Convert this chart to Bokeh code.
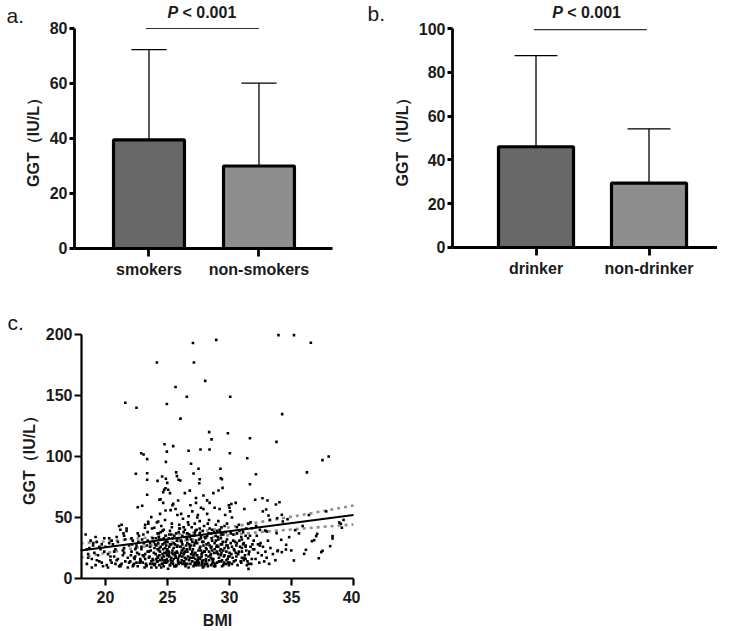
import numpy as np
from bokeh.plotting import figure
from bokeh.models import Range1d, FixedTicker, Label
from bokeh.layouts import column, row
from bokeh.embed import file_html
from bokeh.resources import INLINE

# ---------------- data ----------------
smoke_cats = ["smokers", "non-smokers"]
smoke_mean = [39.5, 30.0]
smoke_upper = [72.3, 60.1]

drink_cats = ["drinker", "non-drinker"]
drink_mean = [46.0, 29.4]
drink_upper = [87.6, 54.2]

p_text = "< 0.001"
bar_colors = ["#686868", "#8e8e8e"]

pts_18_22 = [(18.4,36),(18.5,12),(18.6,17),(18.7,25),(18.8,31),(18.9,16),(19.0,27),(19.1,21),(19.2,11),(19.3,30),
             (19.4,19),(19.5,14),(19.6,24),(19.7,28),(19.8,10),(19.9,33),(18.6,20),(19.0,29),(19.3,15),(19.7,13),
             (19.9,22),(18.9,9),(19.5,26),(18.5,24),(19.2,34),
             (20.0,26),(20.1,11),(20.2,9),(20.3,33),(20.4,18),(20.5,13),(20.6,28),(20.7,22),(20.8,12),(20.9,15),
             (21.0,30),(21.1,43),(21.2,10),(21.3,44),(21.4,19),(21.5,25),(21.6,14),(21.7,41),(21.8,17),(21.9,27),
             (20.2,20),(20.5,31),(20.8,24),(21.0,16),(21.3,12),(21.5,35),(21.8,9),(20.3,29),(20.7,18),(21.1,10),
             (21.4,23),(21.6,32),(21.9,13),(21.2,40),(21.45,37),(21.5,21),(21.7,39),(20.4,15),(20.9,34),(21.2,11),
             (21.6,144)]
pts_22_24 = [(22.0,14),(22.1,22),(22.2,31),(22.3,12),(22.4,18),(22.5,27),(22.6,10),(22.7,35),(22.8,16),(22.9,24),
             (23.0,13),(23.1,29),(23.2,20),(23.3,11),(23.4,38),(23.5,17),(23.6,26),(23.7,9),(23.8,33),(23.9,21),
             (22.05,19),(22.25,11),(22.45,25),(22.65,30),(22.85,14),(23.05,36),(23.25,12),(23.45,45),(23.65,23),(23.85,15),
             (22.15,28),(22.35,16),(22.55,21),(22.75,13),(22.95,32),(23.15,9),(23.35,27),(23.55,18),(23.75,41),(23.95,11),
             (22.1,33),(22.3,17),(22.5,13),(22.7,20),(22.9,26),(23.1,18),(23.3,10),(23.5,22),(23.7,14),(23.9,30),
             (22.2,10),(22.4,24),(22.6,37),(22.8,15),(23.0,19),(23.2,44),(23.4,31),(23.6,12),(23.8,16),(23.95,25),
             (22.6,58.4),(22.96,59.6),(23.44,46.5),(23.18,41.6),(23.69,50.3),(23.93,41.6),(22.45,85.8),(23.36,86.3),
             (23.36,80.9),(23.36,68.6),(22.88,102.7),(23.07,101.6),(23.36,97.8),(22.5,140)]
pts_24_26 = [(24.0,12),(24.1,27),(24.2,18),(24.3,34),(24.4,22),(24.5,9),(24.6,15),(24.7,40),(24.8,25),(24.9,13),
             (25.0,30),(25.1,19),(25.2,11),(25.3,36),(25.4,23),(25.5,16),(25.6,28),(25.7,10),(25.8,21),(25.9,33),
             (24.05,20),(24.15,14),(24.25,29),(24.35,11),(24.45,38),(24.55,17),(24.65,24),(24.75,13),(24.85,31),(24.95,19),
             (25.05,8),(25.15,26),(25.25,15),(25.35,45),(25.45,12),(25.55,35),(25.65,18),(25.75,22),(25.85,14),(25.95,41),
             (24.1,16),(24.3,23),(24.5,32),(24.7,10),(24.9,27),(25.1,21),(25.3,13),(25.5,29),(25.7,17),(25.9,12),
             (24.2,37),(24.4,15),(24.6,20),(24.8,48),(25.0,24),(25.2,11),(25.4,33),(25.6,19),(25.8,52),(26.0,26),
             (24.0,28),(24.25,17),(24.5,43),(24.75,21),(25.0,14),(25.25,56),(25.5,25),(25.75,31),(24.1,9),(24.35,19),
             (24.6,12),(24.85,35),(25.1,22),(25.35,42),(25.6,10),(25.85,16),(24.4,53),(24.9,30),(25.4,60),(25.9,38),
             (24.2,14),(24.45,26),(24.7,18),(24.95,23),(25.2,28),(25.45,20),(25.7,11),(25.95,44),(24.3,32),(24.8,15),
             (25.3,17),(25.8,27),(24.6,39),(25.1,33),(25.6,21),(24.15,46),(24.65,62),(25.15,18),(25.65,57),(25.9,13),
             (24.14,177),(24.95,143),(24.76,110),(25.46,108.5),(24.95,104),(24.87,95.6),(24.2,80),(24.57,83.6),
             (24.87,81.7),(24.98,78.4),(24.65,70.7),(24.73,72.7),(24.84,74),(25.06,72.7),(25.2,70),(25.7,87),
             (25.76,83.9),(25.89,80.9),(24.44,65),(24.35,64.5),(24.84,55.7),(25.46,61.2),(25.86,63.9),(25.65,157),
             (24.25,46.7)]
pts_26_28 = [(26.0,19),(26.1,31),(26.2,12),(26.3,25),(26.4,40),(26.5,16),(26.6,22),(26.7,9),(26.8,34),(26.9,27),
             (27.0,14),(27.1,20),(27.2,45),(27.3,11),(27.4,29),(27.5,17),(27.6,37),(27.7,23),(27.8,13),(27.9,30),
             (26.05,26),(26.15,15),(26.25,49),(26.35,21),(26.45,10),(26.55,33),(26.65,18),(26.75,28),(26.85,12),(26.95,42),
             (27.05,24),(27.15,35),(27.25,16),(27.35,19),(27.45,52),(27.55,13),(27.65,26),(27.75,11),(27.85,39),(27.95,22),
             (26.1,13),(26.3,38),(26.5,27),(26.7,44),(26.9,20),(27.1,10),(27.3,31),(27.5,23),(27.7,58),(27.9,15),
             (26.2,35),(26.4,17),(26.6,12),(26.8,24),(27.0,55),(27.2,29),(27.4,14),(27.6,47),(27.8,21),(28.0,34),
             (26.0,41),(26.25,24),(26.5,16),(26.75,36),(27.0,30),(27.25,21),(27.5,11),(27.75,18),(26.1,53),(26.35,14),
             (26.6,29),(26.85,60),(27.1,17),(27.35,40),(27.6,25),(27.85,9),(26.4,22),(26.9,32),(27.4,50),(27.9,27),
             (26.2,28),(26.45,12),(26.7,51),(26.95,17),(27.2,37),(27.45,15),(27.7,33),(27.95,43),(26.3,20),(26.8,26),
             (27.3,62),(27.8,14),(26.6,32),(27.1,19),(27.6,41),(26.15,23),(26.65,46),(27.15,11),(27.65,16),(27.9,57),
             (27.05,193),(27.13,177),(26.56,149),(26.05,131),(26.7,104.7),(26.9,94),(27.5,90),(27.66,105.7),
             (27.6,81.4),(27.56,78.1),(26.03,80.3),(27.1,86),(26.4,70),(26.8,72),(27.3,66),(27.9,68)]
pts_28_30 = [(28.0,22),(28.1,14),(28.2,35),(28.3,18),(28.4,27),(28.5,11),(28.6,40),(28.7,16),(28.8,24),(28.9,31),
             (29.0,13),(29.1,20),(29.2,57),(29.3,28),(29.4,15),(29.5,36),(29.6,19),(29.7,12),(29.8,45),(29.9,25),
             (28.05,33),(28.15,24),(28.25,10),(28.35,48),(28.45,19),(28.55,26),(28.65,14),(28.75,38),(28.85,12),(28.95,21),
             (29.05,34),(29.15,17),(29.25,23),(29.35,42),(29.45,30),(29.55,13),(29.65,52),(29.75,22),(29.85,16),(29.95,60),
             (28.1,16),(28.3,29),(28.5,20),(28.5,25),(28.5,37),(28.7,13),(28.9,44),(29.1,26),(29.3,14),(29.3,19),
             (29.3,24),(29.3,33),(29.5,11),(29.7,30),(29.9,18),(28.2,53),(28.4,41),(28.6,23),(28.8,58),(29.0,39),
             (28.0,12),(28.25,45),(28.5,17),(28.75,21),(29.0,27),(29.25,38),(29.5,23),(29.75,15),(28.1,19),(28.35,15),
             (28.6,31),(28.85,10),(29.1,47),(29.35,21),(29.6,43),(29.85,27),(28.4,62),(28.9,35),(29.4,28),(29.9,13),
             (28.04,162),(28.93,195.6),(28.36,120),(28.55,114),(29.87,119),(28.39,105.7),(29.27,90),(29.3,82.2),
             (29.39,81.4),(29.44,74.3),(29.11,72.1),(28.7,70),(28.2,64)]
pts_30_32 = [(30.0,18),(30.1,29),(30.2,12),(30.3,36),(30.4,23),(30.5,15),(30.6,42),(30.7,20),(30.8,31),(30.9,14),
             (31.0,25),(31.1,38),(31.2,17),(31.3,27),(31.4,11),(31.5,33),(31.6,22),(31.7,46),(31.8,16),(31.9,24),
             (30.0,13),(30.0,21),(30.0,58),(30.05,55),(30.25,17),(30.45,30),(30.65,11),(30.85,26),(31.05,40),(31.25,19),
             (31.45,14),(31.65,35),(31.85,28),(30.15,61),(30.35,24),(30.55,18),(30.75,44),(30.95,13),(31.15,29),(31.35,41),
             (31.0,22),(31.0,32),(31.3,16),(31.3,26),(31.5,45),(31.55,20),(31.75,12),(31.95,31),(30.2,50),(30.6,37),
             (30.06,149),(30.03,102.7),(31.43,98.6),(31.65,115),(31.65,77.3),(31.53,7.9),(30.5,62),(31.2,57),(31.8,41.2)]
pts_32_40 = [(32.0,24),(32.1,16),(32.2,35),(32.3,21),(32.4,13),(32.5,29),(32.6,19),(32.7,26),(32.8,14),(32.9,22),
             (33.0,17),(33.1,31),(33.2,12),(33.3,25),(33.5,20),(33.7,15),(33.9,23),(32.15,43),(32.45,27),(32.88,39.3),
             (32.13,85.5),(32.07,64.5),(32.66,65.8),(33.06,63.9),(32.96,56.6),(32.69,55),(33.74,60.7),(33.79,112),
             (33.15,51.6),(33.26,48.1),(33.85,49.4),(32.45,39.9),(33.0,38.5),(33.8,37.1),(33.95,199.5),(33.87,22.4),
             (34.03,62.5),(34.22,52.2),(34.3,46.7),(34.68,48.6),(34.17,31.7),(34.81,33.9),(34.57,27.6),(35.3,39.6),
             (35.19,14.8),(34.22,21.6),(34.55,23.8),(34.98,23),(36.02,20.2),(36.16,23.5),(36.65,30.6),(36.83,31.4),
             (36.99,34.7),(37.07,36.6),(37.2,16.6),(37.4,21.6),(37.5,22.7),(38.12,26.5),(38.31,34.7),(38.31,32.8),
             (38.85,45.9),(38.98,44.8),(39.06,41.6),(34.25,134.7),(35.2,199.5),(36.56,193.2),(36.24,87),(37.5,97),
             (38.0,100),(35.6,37),(35.9,43),(36.4,52),(37.8,55),(39.2,48)]
pts_core = [(23.2,16),(23.6,29),(24.05,33),(24.35,25),(24.55,12),(24.75,29),(24.95,16),(25.15,36),(25.35,21),(25.55,10),
            (25.75,26),(25.95,18),(26.15,30),(26.35,12),(26.55,24),(26.75,15),(26.95,35),(27.15,27),(27.35,13),(27.55,32),
            (27.75,20),(27.95,10),(28.15,28),(28.35,22),(28.55,33),(28.75,10),(28.95,26),(29.15,14),(29.35,36),(29.55,18),
            (29.75,27),(29.95,11),(30.15,20),(30.35,14),(30.55,27),(30.75,22),(30.95,34),(31.15,15),(31.35,23),(31.55,12),
            (23.4,22),(23.8,12),(24.2,24),(24.6,28),(25.0,19),(25.4,14),(25.8,33),(26.2,18),(26.6,37),(27.0,22),
            (27.4,19),(27.8,30),(28.2,12),(28.6,16),(29.0,22),(29.4,10),(29.8,32),(30.2,26),(30.6,29),(31.0,17),
            (24.3,37),(24.7,33),(25.2,39),(25.7,37),(26.3,42),(26.8,17),(27.25,39),(27.7,35),(28.3,37),(28.8,29),
            (29.2,40),(29.7,38),(30.3,31),(30.8,39),(31.3,35),(24.9,21),(25.3,28),(26.1,21),(26.5,34),(27.2,13),
            (27.6,17),(28.1,25),(28.6,12),(29.1,32),(29.6,25),(30.1,37),(30.5,21),(31.1,28),(31.7,26),(32.3,28)]

fit_x = [18, 40]
fit_y = [23.0, 52.0]
band_x = [18, 20, 22, 24, 26, 28, 30, 32, 34, 36, 38, 40]
band_upper = [28.7, 30.4, 32.2, 34.1, 36.3, 39.0, 42.0, 45.4, 48.9, 52.4, 56.1, 59.8]
band_lower = [17.3, 20.8, 24.4, 27.7, 30.7, 33.4, 35.6, 37.6, 39.3, 41.0, 42.7, 44.3]

# ---------------- style ----------------
FONT = "Liberation Sans"
TXT = "#1a1a1a"
YLABEL = "GGT\uff08IU/L\uff09"


def style(p, lw=2.5):
    p.grid.visible = False
    p.outline_line_color = None
    p.background_fill_color = "white"
    p.border_fill_color = "white"
    for ax in (p.xaxis, p.yaxis):
        ax.axis_line_width = lw
        ax.axis_line_color = "black"
        ax.major_tick_line_width = lw
        ax.major_tick_line_color = "black"
        ax.major_tick_in = 0
        ax.minor_tick_line_color = None
        ax.major_label_text_font = FONT
        ax.major_label_text_font_style = "bold"
        ax.major_label_text_font_size = "16px"
        ax.major_label_text_color = TXT
        ax.axis_label_text_font = FONT
        ax.axis_label_text_font_style = "bold"
        ax.axis_label_text_font_size = "16px"
        ax.axis_label_text_color = TXT


def bar_panel(cats, mean, upper, ymax, yticks, xr, yr, xaxis_end, yaxis_x, width,
              cap, bw, pline, ptext_x, ptext_y, tag, tag_x, tag_y):
    p = figure(width=width, height=292, x_range=Range1d(*xr), y_range=Range1d(*yr),
               output_backend="svg", toolbar_location=None,
               min_border_left=0, min_border_right=0, min_border_top=0, min_border_bottom=0)
    style(p, 2.8)
    xs = np.array([1, 2], dtype=float)
    m = np.array(mean)
    u = np.array(upper)
    p.segment(x0=xs, y0=m, x1=xs, y1=u, line_color="black", line_width=1.3)
    p.segment(x0=xs - cap, y0=u, x1=xs + cap, y1=u, line_color="black", line_width=1.3)
    p.vbar(x=xs, top=m, bottom=0, width=bw, fill_color=bar_colors, line_color="black", line_width=3.2)
    p.segment(x0=[pline[0]], y0=[pline[2]], x1=[pline[1]], y1=[pline[2]], line_color="#333333", line_width=1.2)
    p.yaxis.fixed_location = yaxis_x
    p.yaxis.ticker = FixedTicker(ticks=yticks)
    p.yaxis.bounds = (0, ymax)
    p.yaxis.major_tick_out = 5
    p.yaxis.major_label_standoff = 2
    p.yaxis.axis_label = YLABEL
    p.yaxis.axis_label_standoff = 5
    p.xaxis.fixed_location = 0
    p.xaxis.bounds = (yaxis_x, xaxis_end)
    p.xaxis.ticker = FixedTicker(ticks=[1, 2])
    p.xaxis.major_label_overrides = {1: cats[0], 2: cats[1]}
    p.xaxis.major_tick_out = 8
    p.xaxis.major_label_standoff = 5
    p.add_layout(Label(x=ptext_x, y=ptext_y, text="P", text_font=FONT, text_font_style="bold italic",
                       text_font_size="16px", text_color=TXT))
    p.add_layout(Label(x=ptext_x, y=ptext_y, x_offset=15, text=p_text, text_font=FONT, text_font_style="bold",
                       text_font_size="16px", text_color=TXT))
    p.add_layout(Label(x=tag_x, y=tag_y, text=tag, text_font=FONT, text_font_size="21px", text_color=TXT))
    return p


pa = bar_panel(smoke_cats, smoke_mean, smoke_upper, 80, [0, 20, 40, 60, 80],
               (-0.35, 2.923), (-16.0, 90.18), 2.668, 0.3227, 360,
               0.16, 0.645, (0.97, 2.0, 80), 1.168, 82.9, "a.", -0.295, 80.4)
pb = bar_panel(drink_cats, drink_mean, drink_upper, 100, [0, 20, 40, 60, 80, 100],
               (-0.553, 2.606), (-20.55, 112.79), 2.650, 0.261, 357,
               0.19, 0.664, (0.98, 1.98, 99.5), 1.143, 103.4, "b.", -0.49, 101.8)

# scatter panel
allpts = pts_18_22 + pts_22_24 + pts_24_26 + pts_26_28 + pts_28_30 + pts_30_32 + pts_32_40 + pts_core
bmi = [q[0] for q in allpts]
ggt = [q[1] for q in allpts]

pc = figure(width=360, height=338, x_range=Range1d(11.532, 40.565), y_range=Range1d(-42.62, 234.4),
            output_backend="svg", toolbar_location=None,
            min_border_left=0, min_border_right=0, min_border_top=0, min_border_bottom=0)
style(pc, 2.2)
pc.line(band_x, band_upper, line_color="#8f8f8f", line_width=2.6, line_dash="3 4")
pc.line(band_x, band_lower, line_color="#8f8f8f", line_width=2.6, line_dash="3 4")
pc.scatter(bmi, ggt, marker="square", size=2.6, fill_color="black", line_color=None)
pc.line(fit_x, fit_y, line_color="black", line_width=2)
pc.yaxis.fixed_location = 18.065
pc.yaxis.ticker = FixedTicker(ticks=[0, 50, 100, 150, 200])
pc.yaxis.bounds = (0, 200)
pc.xaxis.fixed_location = 0
pc.xaxis.bounds = (18.065, 40)
pc.xaxis.ticker = FixedTicker(ticks=[20, 25, 30, 35, 40])
pc.yaxis.major_tick_out = 7
pc.xaxis.major_tick_out = 7
pc.yaxis.major_label_standoff = 2
pc.xaxis.major_label_standoff = 6
pc.yaxis.axis_label = YLABEL
pc.yaxis.axis_label_standoff = 5
pc.xaxis.axis_label = "BMI"
pc.xaxis.axis_label_standoff = 5
pc.add_layout(Label(x=12.1, y=200, text="c.", text_font=FONT, text_font_size="21px", text_color=TXT))

layout = column(row(pa, pb), pc)
open("out.html", "w").write(file_html(layout, INLINE))
